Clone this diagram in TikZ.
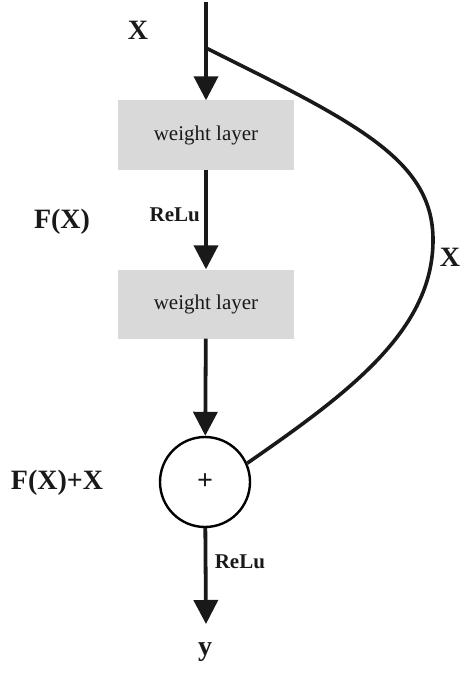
\documentclass[tikz,border=0pt]{standalone}
\usepackage{fontspec}
\setmainfont{Liberation Serif}
\usetikzlibrary{arrows.meta}
\begin{document}
\begin{tikzpicture}[x=1pt,y=-1pt,
  every node/.style={font=\fontsize{28}{32}\selectfont\bfseries,text=black!90},
  layer/.style={fill=black!15,minimum width=176pt,minimum height=69pt,inner sep=0pt,font=\fontsize{21}{24}\selectfont},
  relu/.style={font=\fontsize{21}{24}\selectfont\bfseries},
  flow/.style={line width=3.8pt,black!90,-{Triangle[length=24pt,width=24pt]}},
  skip/.style={line width=3.6pt,black!90}]
  \useasboundingbox (0,0) rectangle (460,674);
  \coordinate (input) at (206,2);
  \coordinate (split) at (206,48);
  \node[layer] (wl1) at (206,135) {weight layer};
  \node[layer] (wl2) at (206,304) {weight layer};
  \node[draw,circle,line width=2.4pt,minimum size=90pt,inner sep=0pt,font=\fontsize{28}{32}\selectfont\bfseries] (sum) at (205,482) {+};
  \coordinate (output) at (206,624);
  \draw[flow] (input) -- (wl1);
  \draw[flow] (wl1) -- (wl2) node[relu,pos=0.45,left=1pt] (relu1) {ReLu};
  \draw[flow] (wl2) -- (sum);
  \draw[flow] (sum) -- (output) node[relu,pos=0.35,right=4pt] (relu2) {ReLu};
  \draw[skip] (split) .. controls (357,123) and (433,160) .. (433,240)
    .. controls (433,330) and (350,392) .. (sum.24);
  \node (xin) at (138,30) {X};
  \node (fx) at (62,222) {F(X)};
  \node (xskip) at (450,257) {X};
  \node (fxx) at (57,483) {F(X)+X};
  \node (y) at (205,652) {y};
\end{tikzpicture}
\end{document}
